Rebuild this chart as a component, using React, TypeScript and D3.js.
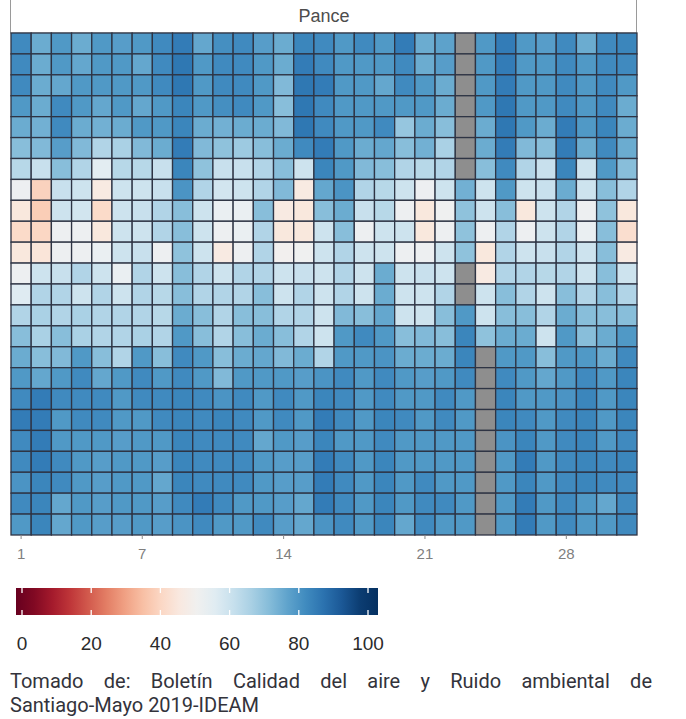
import React from "react"
import * as d3 from "d3"

// categories
const days = d3.range(1, 32)
const hours = d3.range(0, 24)
const dayTicks = [1, 7, 14, 21, 28]
const legendTicks = [0, 20, 40, 60, 80, 100]
const station = "Pance"
const captionLines = [
  "Tomado de: Boletín Calidad del aire y Ruido ambiental de",
  "Santiago-Mayo 2019-IDEAM",
]

// one row per hour, one value per day of May (null = no data)
const values: (number | null)[][] = [
  [82, 75, 79, 75, 79, 78, 79, 82, 85, 76, 81, 82, 78, 75, 83, 82, 79, 82, 79, 85, 75, 77, null, 79, 85, 79, 78, 82, 75, 82, 83],
  [82, 75, 79, 76, 79, 79, 76, 82, 86, 79, 82, 82, 79, 75, 85, 82, 79, 79, 79, 82, 75, 78, null, 79, 85, 79, 79, 82, 79, 82, 82],
  [82, 75, 76, 79, 79, 79, 79, 82, 86, 79, 82, 82, 79, 72, 86, 85, 79, 79, 76, 82, 79, 75, null, 79, 85, 79, 79, 82, 79, 82, 79],
  [79, 75, 82, 79, 76, 79, 76, 79, 83, 79, 81, 82, 79, 71, 86, 82, 79, 79, 79, 79, 79, 75, null, 79, 86, 79, 79, 82, 79, 82, 75],
  [75, 74, 82, 75, 74, 75, 79, 79, 83, 75, 74, 75, 75, 72, 86, 82, 79, 79, 82, 69, 75, 71, null, 75, 86, 79, 75, 85, 79, 83, 75],
  [71, 72, 78, 72, 65, 66, 72, 75, 85, 72, 70, 68, 71, 75, 82, 85, 79, 75, 76, 71, 74, 66, null, 75, 85, 72, 71, 85, 75, 82, 75],
  [64, 61, 71, 65, 55, 64, 64, 61, 83, 70, 61, 61, 65, 71, 60, 83, 79, 72, 71, 65, 64, 65, null, 71, 82, 65, 61, 83, 60, 79, 71],
  [52, 39, 61, 60, 46, 60, 60, 61, 80, 65, 59, 60, 65, 72, 46, 76, 80, 65, 64, 60, 52, 60, 74, 60, 79, 60, 61, 75, 60, 71, 65],
  [45, 38, 60, 59, 41, 60, 61, 65, 71, 60, 53, 53, 71, 46, 45, 71, 75, 61, 64, 52, 45, 51, 70, 60, 71, 45, 60, 65, 52, 70, 45],
  [41, 40, 52, 52, 45, 60, 60, 65, 71, 60, 52, 53, 65, 45, 45, 60, 71, 52, 60, 60, 45, 52, 70, 52, 65, 52, 60, 65, 53, 71, 42],
  [45, 44, 52, 52, 53, 60, 61, 52, 70, 60, 46, 52, 65, 50, 51, 60, 65, 60, 60, 52, 52, 60, 70, 45, 65, 60, 61, 65, 60, 71, 46],
  [52, 60, 61, 65, 60, 53, 65, 60, 71, 65, 60, 65, 65, 60, 61, 60, 65, 60, 75, 60, 61, 60, null, 46, 65, 65, 64, 65, 60, 71, 60],
  [56, 65, 65, 60, 65, 60, 65, 64, 71, 65, 65, 65, 71, 60, 65, 60, 65, 60, 75, 60, 60, 65, null, 60, 71, 65, 60, 71, 65, 71, 65],
  [65, 66, 65, 66, 65, 65, 65, 64, 75, 71, 65, 71, 71, 65, 65, 60, 72, 71, 76, 60, 60, 71, 79, 60, 71, 71, 65, 75, 71, 71, 71],
  [71, 66, 71, 66, 65, 65, 66, 65, 79, 71, 65, 71, 75, 71, 65, 60, 79, 82, 79, 71, 72, 71, 83, 70, 75, 75, 60, 79, 71, 75, 79],
  [75, 71, 72, 79, 71, 65, 79, 71, 82, 79, 71, 75, 76, 72, 75, 65, 79, 79, 80, 75, 75, 75, 83, null, 79, 79, 71, 79, 79, 75, 82],
  [79, 76, 79, 82, 76, 79, 82, 79, 82, 79, 72, 79, 79, 79, 78, 80, 82, 79, 82, 79, 78, 79, 82, null, 82, 79, 76, 79, 82, 79, 83],
  [82, 85, 82, 82, 82, 79, 82, 82, 83, 82, 80, 82, 79, 82, 79, 83, 82, 79, 82, 79, 79, 82, 79, null, 83, 79, 79, 80, 83, 79, 83],
  [85, 85, 79, 82, 82, 79, 79, 82, 83, 82, 83, 82, 79, 82, 79, 85, 82, 79, 83, 82, 79, 82, 79, null, 83, 82, 79, 82, 83, 79, 83],
  [82, 85, 79, 79, 79, 78, 79, 79, 83, 82, 82, 82, 76, 79, 78, 83, 79, 79, 82, 79, 79, 79, 79, null, 80, 83, 79, 82, 83, 79, 82],
  [82, 85, 82, 79, 78, 79, 79, 78, 83, 82, 82, 82, 79, 78, 78, 85, 82, 79, 83, 79, 79, 79, 79, null, 79, 85, 79, 82, 83, 82, 83],
  [80, 83, 82, 79, 78, 79, 79, 76, 83, 82, 82, 82, 79, 78, 78, 85, 82, 79, 83, 79, 82, 79, 79, null, 79, 83, 79, 82, 83, 82, 82],
  [82, 83, 76, 79, 78, 79, 79, 78, 82, 85, 82, 79, 79, 78, 76, 85, 82, 79, 83, 79, 82, 82, 79, null, 79, 85, 79, 82, 79, 76, 82],
  [79, 83, 76, 79, 78, 78, 79, 78, 80, 82, 79, 79, 82, 78, 76, 80, 82, 79, 83, 76, 82, 79, 79, null, 79, 85, 79, 82, 79, 79, 82],
]

const App = () => {
  const width = 686
  const height = 719

  // scales
  const xScale = d3.scaleBand<number>().domain(days).range([11, 637])
  const yScale = d3.scaleBand<number>().domain(hours).range([33, 535])
  const color = d3.scaleSequential(d3.interpolateRdBu).domain([0, 100])

  // legend
  const legendScale = d3.scaleLinear().domain([0, 100]).range([22, 368])
  const bar = { x0: 16, x1: 378, y: 588, h: 27 }
  const stops = d3.range(0, 1.0001, 0.05).map((t) => {
    const v = legendScale.invert(bar.x0 + t * (bar.x1 - bar.x0))
    return { offset: t, color: color(Math.max(0, Math.min(100, v))) }
  })

  const cells = hours.flatMap((h) =>
    days.map((d, i) => ({ h, d, v: values[h][i] })),
  )

  return (
    <div style={{ position: "absolute", left: 0, top: 0, width, height, background: "#fff" }}>
      <svg width={width} height={height} style={{ display: "block" }}>
        <defs>
          <linearGradient id="rdbu" x1="0" x2="1" y1="0" y2="0">
            {stops.map((s, i) => (
              <stop key={i} offset={s.offset} stopColor={s.color} />
            ))}
          </linearGradient>
        </defs>

        {/* facet strip */}
        <rect x={10.5} y={-2} width={626} height={35} fill="#fff" stroke="#9a9a9a" />
        <text
          x={(xScale.range()[0] + xScale.range()[1]) / 2}
          y={22}
          textAnchor="middle"
          fontFamily="Liberation Sans, Arial, sans-serif"
          fontSize={18}
          fill="#4d4d4d"
        >
          {station}
        </text>

        {/* tiles */}
        <g>
          {cells.map((c) => (
            <rect
              key={`${c.h}-${c.d}`}
              x={xScale(c.d)}
              y={yScale(c.h)}
              width={xScale.bandwidth()}
              height={yScale.bandwidth()}
              fill={c.v == null ? "#8e8e8e" : color(c.v)}
              stroke="#2e3444"
              strokeWidth={1.3}
            />
          ))}
        </g>

        {/* x axis */}
        <g>
          {dayTicks.map((d) => {
            const cx = (xScale(d) ?? 0) + xScale.bandwidth() / 2
            return (
              <g key={d}>
                <line x1={cx} x2={cx} y1={535} y2={539} stroke="#8a8a8a" />
                <text
                  x={cx}
                  y={559}
                  textAnchor="middle"
                  fontFamily="Liberation Sans, Arial, sans-serif"
                  fontSize={15}
                  fill="#7f7f7f"
                >
                  {d}
                </text>
              </g>
            )
          })}
        </g>

        {/* colour bar */}
        <rect x={bar.x0} y={bar.y} width={bar.x1 - bar.x0} height={bar.h} fill="url(#rdbu)" />
        {legendTicks.map((t) => {
          const lx = legendScale(t)
          return (
            <g key={t}>
              <line x1={lx} x2={lx} y1={bar.y} y2={bar.y + 5} stroke="#fff" strokeWidth={1.3} />
              <line x1={lx} x2={lx} y1={bar.y + bar.h - 5} y2={bar.y + bar.h} stroke="#fff" strokeWidth={1.3} />
              <text
                x={lx}
                y={650}
                textAnchor="middle"
                fontFamily="Liberation Sans, Arial, sans-serif"
                fontSize={19}
                fill="#2b2b2b"
              >
                {t}
              </text>
            </g>
          )
        })}
      </svg>

      {/* source caption */}
      <div
        style={{
          position: "absolute",
          left: 10,
          top: 669,
          width: 642,
          fontFamily: "Roboto, sans-serif",
          fontSize: 20,
          lineHeight: "24px",
          color: "#33333b",
        }}
      >
        <div style={{ textAlign: "justify", textAlignLast: "justify" }}>{captionLines[0]}</div>
        <div>{captionLines[1]}</div>
      </div>
    </div>
  )
}

export default App
